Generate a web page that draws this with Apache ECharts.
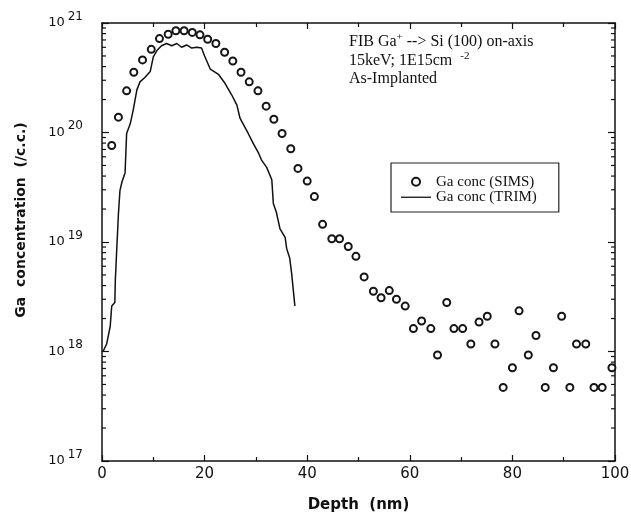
<!DOCTYPE html>
<html>
<head>
<meta charset="utf-8">
<script src="https://cdn.jsdelivr.net/npm/echarts@6/dist/echarts.min.js"></script>
<style>
  html, body { margin: 0; padding: 0; background: #fff; }
  #main { width: 631px; height: 524px; }
</style>
</head>
<body>
<div id="main"></div>
<script>
// SIMS measured points (depth nm, Ga concentration /c.c.)
var simsDepth = [1.9, 3.2, 4.8, 6.2, 7.9, 9.6, 11.2, 12.9, 14.4, 16.0, 17.6, 19.1, 20.6, 22.2, 23.9, 25.5,
  27.1, 28.7, 30.4, 32.0, 33.5, 35.1, 36.8, 38.2, 40.0, 41.4, 43.0, 44.8, 46.3, 48.0, 49.5, 51.1,
  52.9, 54.4, 56.0, 57.4, 59.1, 60.7, 62.3, 64.1, 65.4, 67.2, 68.6, 70.3, 71.9, 73.5, 75.1, 76.6,
  78.2, 80.0, 81.3, 83.1, 84.6, 86.4, 88.0, 89.6, 91.2, 92.5, 94.3, 95.9, 97.5, 99.4];
var simsConc = [7.6e19, 1.38e20, 2.4e20, 3.55e20, 4.6e20, 5.75e20, 7.2e20, 7.9e20, 8.5e20, 8.5e20, 8.2e20, 7.8e20, 7.1e20, 6.5e20, 5.4e20, 4.5e20,
  3.55e20, 2.9e20, 2.4e20, 1.74e20, 1.32e20, 9.8e19, 7.1e19, 4.7e19, 3.6e19, 2.6e19, 1.45e19, 1.07e19, 1.07e19, 9.1e18, 7.4e18, 4.8e18,
  3.55e18, 3.1e18, 3.6e18, 3.0e18, 2.6e18, 1.62e18, 1.9e18, 1.62e18, 9.3e17, 2.8e18, 1.62e18, 1.62e18, 1.17e18, 1.86e18, 2.1e18, 1.17e18,
  4.7e17, 7.1e17, 2.35e18, 9.3e17, 1.4e18, 4.7e17, 7.1e17, 2.1e18, 4.7e17, 1.17e18, 1.17e18, 4.7e17, 4.7e17, 7.1e17];

// TRIM simulated profile
var trimDepth = [0.2, 0.9, 1.6, 1.9, 2.5, 2.6, 2.9, 3.2, 3.5, 3.9, 4.5, 4.8, 5.5, 6.1, 6.8, 7.4, 8.4, 9.4,
  10.0, 10.7, 11.6, 12.6, 13.6, 14.6, 15.5, 16.5, 17.5, 18.5, 19.4, 20.0, 21.1, 22.7, 24.0, 25.3, 26.3, 26.9,
  28.5, 29.5, 30.5, 31.1, 32.1, 33.1, 33.4, 34.0, 34.7, 35.7, 36.0, 36.6, 37.0, 37.3, 37.6];
var trimConc = [1.0e18, 1.17e18, 1.7e18, 2.6e18, 2.8e18, 4.5e18, 9.1e18, 1.8e19, 2.95e19, 3.55e19, 4.3e19, 9.8e19, 1.2e20, 1.62e20, 2.45e20, 2.9e20, 3.2e20, 3.6e20,
  4.9e20, 5.6e20, 6.2e20, 6.5e20, 6.2e20, 6.5e20, 6.0e20, 6.3e20, 5.9e20, 6.0e20, 5.9e20, 5.0e20, 3.8e20, 3.4e20, 2.8e20, 2.2e20, 1.78e20, 1.35e20,
  9.8e19, 7.9e19, 6.5e19, 5.6e19, 4.8e19, 3.7e19, 2.25e19, 1.86e19, 1.32e19, 1.1e19, 8.7e18, 7.1e18, 5.0e18, 3.6e18, 2.6e18];

// minor log ticks on the y axes
var logMinorTicks = [];
[1e17, 1e18, 1e19, 1e20].forEach(function (d) {
  for (var k = 2; k <= 9; k++) logMinorTicks.push([k * d]);
});

var simsData = simsDepth.map(function (x, i) { return [x, simsConc[i]]; });
var trimData = trimDepth.map(function (x, i) { return [x, trimConc[i]]; });

var myChart = echarts.init(document.getElementById('main'), null, { renderer: 'canvas' });

var sansFont = '"DejaVu Sans", sans-serif';
var serifFont = '"Liberation Serif", "Times New Roman", serif';

var xAxisBase = {
  type: 'value',
  min: 0,
  max: 100,
  interval: 20,
  axisLine: { show: true, onZero: false, lineStyle: { color: '#111', width: 1.5 } },
  axisTick: { show: true, inside: true, length: 6, lineStyle: { color: '#111', width: 1.2 } },
  minorTick: { show: true, splitNumber: 2, length: 4, lineStyle: { color: '#111', width: 1.2 } },
  splitLine: { show: false }
};

var yAxisBase = {
  type: 'log',
  logBase: 10,
  min: 1e17,
  max: 1e21,
  axisLine: { show: true, onZero: false, lineStyle: { color: '#111', width: 1.5 } },
  axisTick: { show: true, inside: true, length: 7, lineStyle: { color: '#111', width: 1.2 } },
  splitLine: { show: false }
};

var option = {
  animation: false,
  backgroundColor: '#fff',
  grid: {
    left: 102,
    right: 16,
    top: 23,
    bottom: 63,
    show: false,
    outerBoundsMode: 'none'
  },
  legend: {
    data: [
      { name: 'Ga conc (SIMS)' },
      { name: 'Ga conc (TRIM)', icon: 'path://M0,0 L30,0 L30,1.3 L0,1.3 Z' }
    ],
    orient: 'vertical',
    left: 391,
    top: 163,
    itemWidth: 30,
    itemHeight: 8,
    itemGap: 0,
    padding: [11, 22, 7, 10],
    borderColor: '#222',
    borderWidth: 1.2,
    selectedMode: false,
    textStyle: {
      fontFamily: serifFont,
      fontSize: 15,
      color: '#111',
      lineHeight: 15.5
    }
  },
  graphic: [
    {
      type: 'text',
      left: 349,
      top: 32,
      style: {
        text: 'FIB Ga{s|+} --> Si (100) on-axis\n15keV; 1E15cm  {s|-2}\nAs-Implanted',
        fontFamily: serifFont,
        fontSize: 16,
        lineHeight: 18.5,
        fill: '#111',
        rich: {
          s: { fontFamily: serifFont, fontSize: 11, padding: [0, 0, 9, 0], fill: '#111' }
        }
      }
    }
  ],
  xAxis: [
    Object.assign({}, xAxisBase, {
      position: 'bottom',
      name: 'Depth  (nm)',
      nameLocation: 'middle',
      nameGap: 37,
      nameTextStyle: { fontFamily: sansFont, fontSize: 15, fontWeight: 'bold', color: '#111' },
      axisLabel: { fontFamily: sansFont, fontSize: 15, color: '#111', margin: 6 }
    }),
    Object.assign({}, xAxisBase, {
      position: 'top',
      axisLabel: { show: false }
    })
  ],
  yAxis: [
    Object.assign({}, yAxisBase, {
      position: 'left',
      name: 'Ga  concentration  (/c.c.)',
      nameLocation: 'middle',
      nameGap: 74,
      nameTextStyle: {
        fontFamily: sansFont, fontSize: 14, fontWeight: 'bold', color: '#111',
        padding: [0, 0, 0, 44]
      },
      axisLabel: {
        margin: 19,
        formatter: function (v) {
          var e = Math.round(Math.log(v) / Math.LN10);
          return '{b|10}{e|' + e + '}';
        },
        rich: {
          b: { fontFamily: sansFont, fontSize: 13, color: '#111' },
          e: { fontFamily: sansFont, fontSize: 12, color: '#111', padding: [0, 0, 13, 3] }
        }
      }
    }),
    Object.assign({}, yAxisBase, {
      position: 'right',
      axisLabel: { show: false }
    })
  ],
  series: [
    {
      name: 'Ga conc (SIMS)',
      type: 'scatter',
      data: simsData,
      symbol: 'circle',
      symbolSize: 7,
      itemStyle: { color: '#fff', borderColor: '#151515', borderWidth: 2, opacity: 1 },
      z: 3
    },
    {
      name: 'Ga conc (TRIM)',
      type: 'line',
      data: trimData,
      symbol: 'none',
      lineStyle: { color: '#111', width: 1.5 },
      itemStyle: { color: '#111' },
      z: 2
    },
    {
      name: 'minor ticks',
      type: 'custom',
      data: logMinorTicks,
      encode: { y: 0 },
      silent: true,
      renderItem: function (params, api) {
        var cs = params.coordSys;
        var y = api.coord([0, api.value(0)])[1];
        return {
          type: 'group',
          children: [
            { type: 'line', shape: { x1: cs.x, y1: y, x2: cs.x + 4, y2: y }, style: { stroke: '#111', lineWidth: 1.2 } },
            { type: 'line', shape: { x1: cs.x + cs.width - 4, y1: y, x2: cs.x + cs.width, y2: y }, style: { stroke: '#111', lineWidth: 1.2 } }
          ]
        };
      }
    }
  ]
};

myChart.setOption(option);
window.addEventListener('resize', function () {
  myChart.resize();
});
</script>
</body>
</html>
